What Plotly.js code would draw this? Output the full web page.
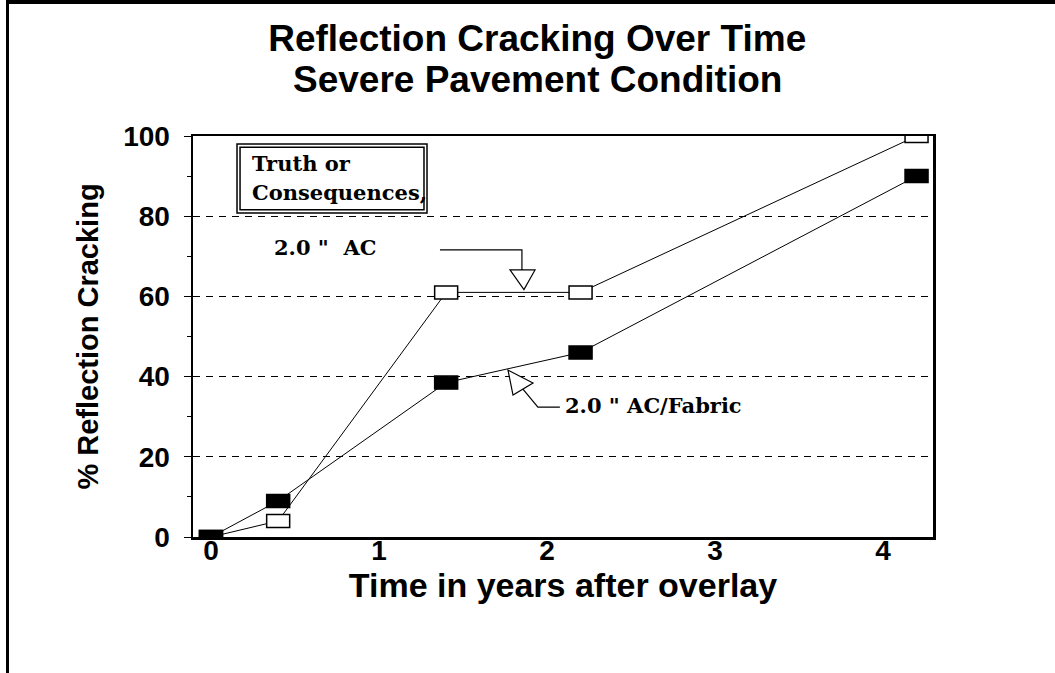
<!DOCTYPE html>
<html>
<head>
<meta charset="utf-8">
<script src="https://cdn.plot.ly/plotly-3.0.1.min.js"></script>
<style>
  html, body { margin: 0; padding: 0; background: #fff; overflow: hidden; }
  #frame { position: absolute; left: 6px; top: 0; width: 1049px; height: 669px;
           border-top: 4px solid #000; border-left: 3px solid #000; }
  #chart { width: 1046px; height: 669px; }
</style>
</head>
<body>
<div id="frame"><div id="chart"></div></div>
<script>
// ---- data ----
const years = [0, 0.4, 1.4, 2.2, 4.2];
const acCracking = [0, 4, 61, 61, 100];           // 2.0" AC (open markers)
const fabricCracking = [0, 9, 38.5, 46, 90];      // 2.0" AC/Fabric (filled markers)
const xTickVals = [0, 1, 2, 3, 4];
const xTickText = ['0', '1', '2', '3', '4'];
const yTickVals = [0, 20, 40, 60, 80, 100];
const yTickText = ['0', '20', '40', '60', '80', '100'];
const seriesNames = ['2.0 " AC', '2.0 " AC/Fabric'];

const sans = 'Liberation Sans, Arial, sans-serif';
const serif = 'DejaVu Serif, serif';

const traces = [
  { x: years, y: acCracking, name: seriesNames[0], mode: 'lines',
    line: { color: '#000', width: 1 }, cliponaxis: true, hoverinfo: 'x+y' },
  { x: years, y: fabricCracking, name: seriesNames[1], mode: 'lines',
    line: { color: '#000', width: 1 }, cliponaxis: true, hoverinfo: 'x+y' }
];

// rectangular markers anchored on the data points (pixel-sized)
function markerShapes(xs, ys, fill) {
  return xs.map((xv, i) => ({
    type: 'rect', xref: 'x', yref: 'y', layer: 'above',
    xsizemode: 'pixel', ysizemode: 'pixel',
    xanchor: xv, yanchor: ys[i],
    x0: -11.5, x1: 11.5, y0: -6.5, y1: 6.5,
    fillcolor: fill, line: { color: '#000', width: 1.5 }
  }));
}

const shapes = [
  ...markerShapes(years, acCracking, '#fff'),
  ...markerShapes(years, fabricCracking, '#000'),
  // double-bordered note box
  { type: 'rect', xref: 'x', yref: 'y', x0: 0.155, x1: 1.286, y0: 80.8, y1: 98.0,
    line: { color: '#000', width: 1.5 }, fillcolor: 'rgba(0,0,0,0)' },
  { type: 'rect', xref: 'x', yref: 'y', x0: 0.173, x1: 1.268, y0: 81.6, y1: 97.2,
    line: { color: '#000', width: 1.5 }, fillcolor: 'rgba(0,0,0,0)' },
  // callout for 2.0" AC
  { type: 'path', xref: 'x', yref: 'y',
    path: 'M 1.363 71.6 L 1.851 71.6 L 1.851 66.6',
    line: { color: '#000', width: 1.2 } },
  { type: 'path', xref: 'x', yref: 'y',
    path: 'M 1.780 66.6 L 1.929 66.6 L 1.863 61.7 Z',
    line: { color: '#000', width: 1.2 }, fillcolor: '#fff' },
  // callout for 2.0" AC/Fabric
  { type: 'path', xref: 'x', yref: 'y',
    path: 'M 2.077 32.4 L 1.946 32.4 L 1.857 36.9',
    line: { color: '#000', width: 1.2 } },
  { type: 'path', xref: 'x', yref: 'y',
    path: 'M 1.768 41.6 L 1.798 35.4 L 1.917 38.4 Z',
    line: { color: '#000', width: 1.2 }, fillcolor: '#fff' }
];

const annotations = [
  { text: 'Severe Pavement Condition', xref: 'paper', yref: 'paper',
    x: 0.465, y: 1.1397, xanchor: 'center', yanchor: 'middle', showarrow: false,
    font: { family: sans, size: 37, color: '#000', weight: 'bold' } },
  { text: 'Truth or', xref: 'x', yref: 'y', x: 0.232, y: 93.2,
    xanchor: 'left', yanchor: 'middle', showarrow: false,
    font: { family: serif, size: 21, color: '#000', weight: 'bold' } },
  { text: 'Consequences,', xref: 'x', yref: 'y', x: 0.232, y: 86.0,
    xanchor: 'left', yanchor: 'middle', showarrow: false,
    font: { family: serif, size: 21, color: '#000', weight: 'bold' } },
  { text: '2.0 "&nbsp; AC', xref: 'x', yref: 'y', x: 0.679, y: 72.1,
    xanchor: 'center', yanchor: 'middle', showarrow: false,
    font: { family: serif, size: 21, color: '#000', weight: 'bold' } },
  { text: '2.0 " AC/Fabric', xref: 'x', yref: 'y', x: 2.095, y: 32.9,
    xanchor: 'left', yanchor: 'middle', showarrow: false,
    font: { family: serif, size: 21, color: '#000', weight: 'bold' } }
];

const layout = {
  width: 1046, height: 669,
  margin: { l: 184, r: 122, t: 132, b: 136 },
  paper_bgcolor: '#fff', plot_bgcolor: '#fff',
  showlegend: false,
  title: { text: 'Reflection Cracking Over Time', xref: 'container', yref: 'container',
    x: 0.505, y: 1 - 34 / 669, xanchor: 'center', yanchor: 'middle',
    font: { family: sans, size: 37, color: '#000', weight: 'bold' } },
  xaxis: {
    range: [-0.107, 4.298], tickvals: xTickVals, ticktext: xTickText,
    showgrid: false, zeroline: false, ticks: '',
    ticklabelstandoff: -13,
    showline: true, mirror: true, linecolor: '#000', linewidth: 2.5,
    tickfont: { family: sans, size: 28, color: '#000', weight: 'bold' },
    title: { text: 'Time in years after overlay', standoff: 0,
      font: { family: sans, size: 34, color: '#000', weight: 'bold' } }
  },
  yaxis: {
    range: [0, 100], tickvals: yTickVals, ticktext: yTickText,
    showgrid: true, gridcolor: '#000', gridwidth: 1, griddash: '7px,6px',
    zeroline: false, ticks: 'outside', ticklen: 7, tickcolor: '#000', tickwidth: 1,
    ticklabelstandoff: 8,
    minor: { tickvals: [10, 30, 50, 70, 90], ticks: 'outside', ticklen: 4, tickcolor: '#000', showgrid: false },
    showline: true, mirror: true, linecolor: '#000', linewidth: 2.5,
    tickfont: { family: sans, size: 28, color: '#000', weight: 'bold' },
    title: { text: '% Reflection Cracking', standoff: 16,
      font: { family: sans, size: 29, color: '#000', weight: 'bold' } }
  },
  shapes: shapes,
  annotations: annotations
};

Plotly.newPlot('chart', traces, layout, { staticPlot: true, displayModeBar: false });
</script>
</body>
</html>
